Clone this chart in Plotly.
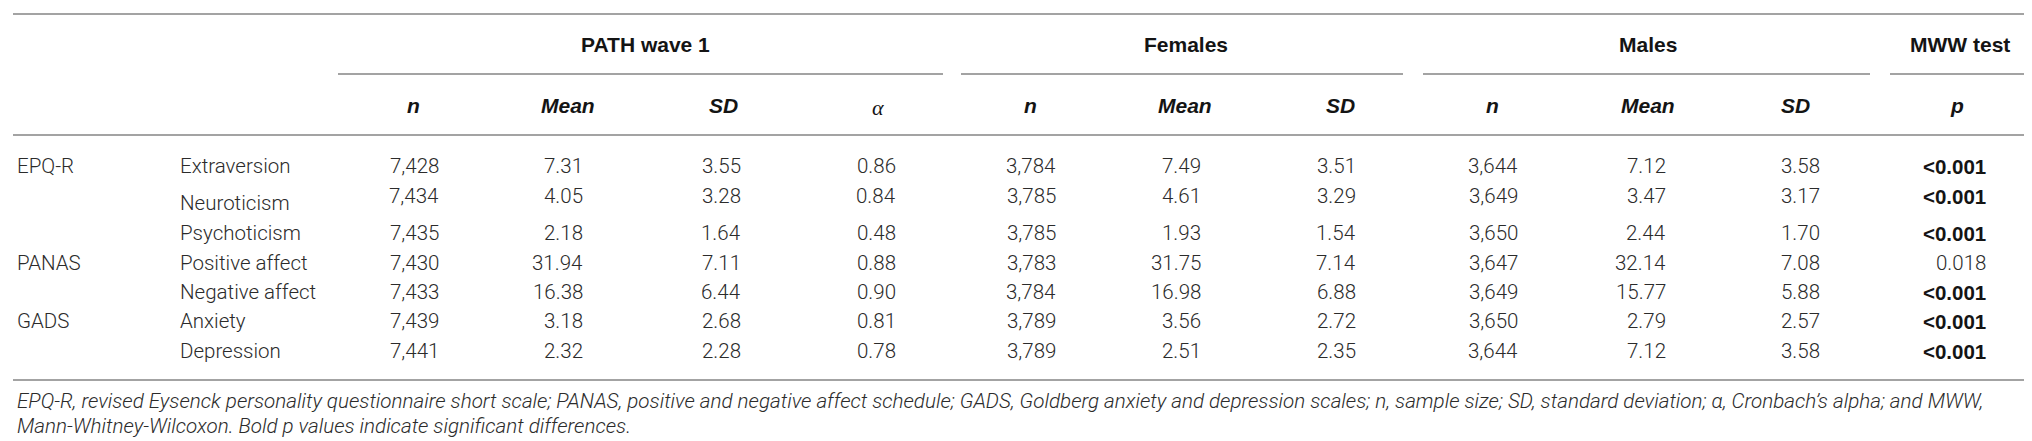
import plotly.graph_objects as go

# ---------------- data ----------------
scales = ["EPQ-R", "", "", "PANAS", "", "GADS", ""]
subscales = ["Extraversion", "Neuroticism", "Psychoticism", "Positive affect",
             "Negative affect", "Anxiety", "Depression"]

path_n = [7428, 7434, 7435, 7430, 7433, 7439, 7441]
path_mean = [7.31, 4.05, 2.18, 31.94, 16.38, 3.18, 2.32]
path_sd = [3.55, 3.28, 1.64, 7.11, 6.44, 2.68, 2.28]
path_alpha = [0.86, 0.84, 0.48, 0.88, 0.90, 0.81, 0.78]

fem_n = [3784, 3785, 3785, 3783, 3784, 3789, 3789]
fem_mean = [7.49, 4.61, 1.93, 31.75, 16.98, 3.56, 2.51]
fem_sd = [3.51, 3.29, 1.54, 7.14, 6.88, 2.72, 2.35]

male_n = [3644, 3649, 3650, 3647, 3649, 3650, 3644]
male_mean = [7.12, 3.47, 2.44, 32.14, 15.77, 2.79, 7.12]
male_sd = [3.58, 3.17, 1.70, 7.08, 5.88, 2.57, 3.58]

p_values = ["<0.001", "<0.001", "<0.001", "0.018", "<0.001", "<0.001", "<0.001"]
p_significant = [True, True, True, False, True, True, True]

group_headers = ["PATH wave 1", "Females", "Males", "MWW test"]
col_headers = ["n", "Mean", "SD", "α", "n", "Mean", "SD", "n", "Mean", "SD", "p"]

footnote = [
    "EPQ-R, revised Eysenck personality questionnaire short scale; PANAS, positive and negative affect schedule; "
    "GADS, Goldberg anxiety and depression scales; n, sample size; SD, standard deviation; α, Cronbach’s alpha; and MWW,",
    "Mann-Whitney-Wilcoxon. Bold p values indicate significant differences.",
]

# ---------------- layout (pixel geometry) ----------------
W, H = 2032, 441
value_y = [158, 188, 225, 255, 284, 313, 343]
label_y = [158, 195, 225, 255, 284, 313, 343]
col_right = [433, 577, 735, 890, 1050, 1195, 1350, 1512, 1660, 1814, 1980]
col_center = [405, 560, 715, 870, 1022, 1177, 1332, 1484, 1640, 1787, 1949]
group_center = [637, 1178, 1640, 1952]
group_span = [(330, 935), (953, 1395), (1415, 1862), (1882, 2025)]
scale_x, sub_x = 7, 170
top_y, group_y, subline_y, colhead_y, headline_y, bottom_y = 6, 36, 66, 97, 127, 372
foot_y = [393, 418]

BODY = "Roboto, 'Liberation Sans', Arial, sans-serif"
HEAD = "'Liberation Sans', Arial, Helvetica, sans-serif"
SERIF = "'Liberation Serif', 'DejaVu Serif', serif"
body_col = "#2b2b2b"
head_col = "#141414"
line_col = "#a3a3a3"

fig = go.Figure()
fig.add_trace(go.Scatter(x=[0, W], y=[0, H], mode="markers",
                         marker=dict(opacity=0), hoverinfo="skip", showlegend=False))

ann = []

def add(text, x, y, anchor="center", size=20.5, family=BODY, color=body_col, weight=300, style="normal"):
    ann.append(dict(text=text, x=x, y=y, xref="x", yref="y", xanchor=anchor, yanchor="middle",
                    showarrow=False,
                    font=dict(size=size, family=family, color=color, weight=weight, style=style)))

# group headers
for g, cx in zip(group_headers, group_center):
    add(g, cx, group_y, size=21, family=HEAD, color=head_col, weight=700)

# column headers
for h, cx in zip(col_headers, col_center):
    if h == "α":
        add(h, cx, colhead_y + 2, size=22, family=SERIF, color=head_col, weight=400, style="italic")
    else:
        add(h, cx, colhead_y, size=21, family=HEAD, color=head_col, weight=700, style="italic")

# body
columns = [
    [f"{v:,}" for v in path_n], [f"{v:.2f}" for v in path_mean],
    [f"{v:.2f}" for v in path_sd], [f"{v:.2f}" for v in path_alpha],
    [f"{v:,}" for v in fem_n], [f"{v:.2f}" for v in fem_mean], [f"{v:.2f}" for v in fem_sd],
    [f"{v:,}" for v in male_n], [f"{v:.2f}" for v in male_mean], [f"{v:.2f}" for v in male_sd],
]
for i in range(len(subscales)):
    if scales[i]:
        add(scales[i], scale_x, label_y[i], anchor="left")
    add(subscales[i], sub_x, label_y[i], anchor="left")
    for c, col in enumerate(columns):
        add(col[i], col_right[c], value_y[i], anchor="right")
    ptxt = p_values[i].replace("<", "&lt;")
    if p_significant[i]:
        add(ptxt, col_right[10], value_y[i], anchor="right", family=HEAD, color=head_col, weight=700)
    else:
        add(ptxt, col_right[10], value_y[i], anchor="right")

# footnote
for t, fy in zip(footnote, foot_y):
    add(t, scale_x, fy, anchor="left", size=20.6, style="italic")

shapes = []
def hline(x0, x1, y, w=2):
    shapes.append(dict(type="line", xref="x", yref="y", x0=x0, x1=x1, y0=y, y1=y,
                       line=dict(color=line_col, width=w)))

hline(5, 2025, top_y)
for x0, x1 in group_span:
    hline(x0, x1, subline_y)
hline(5, 2025, headline_y)
hline(5, 2025, bottom_y)

fig.update_layout(
    width=W, height=H, margin=dict(l=0, r=0, t=0, b=0),
    paper_bgcolor="white", plot_bgcolor="white",
    xaxis=dict(range=[0, W], visible=False, fixedrange=True),
    yaxis=dict(range=[H, 0], visible=False, fixedrange=True),
    annotations=ann, shapes=shapes, showlegend=False,
)
fig.write_html("out.html", config={"displayModeBar": False})
